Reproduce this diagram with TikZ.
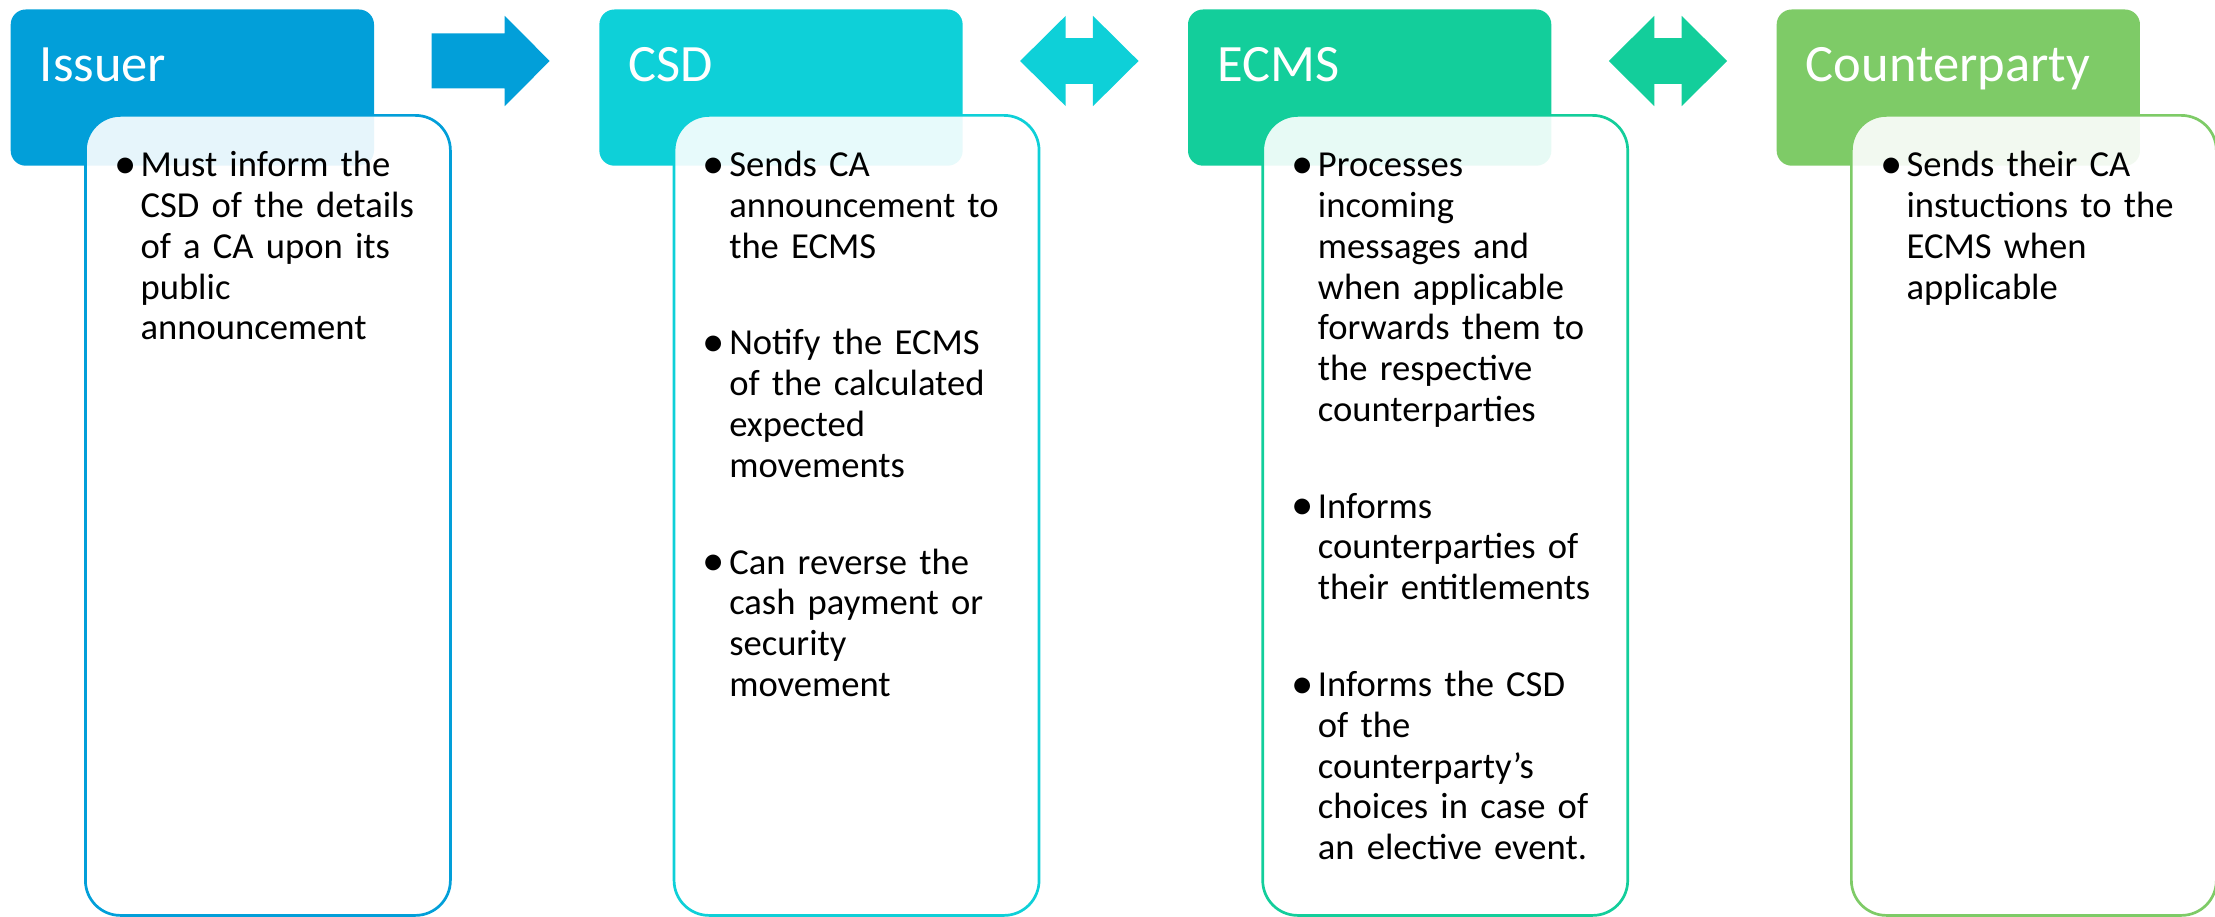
\documentclass[tikz,border=0pt]{standalone}
\usepackage{fontspec}
\usepackage{graphicx}
\setmainfont{Carlito}
\usetikzlibrary{calc}
\definecolor{cIss}{RGB}{2,159,217}
\definecolor{cCsd}{RGB}{14,208,216}
\definecolor{cEcm}{RGB}{19,206,155}
\definecolor{cCpt}{RGB}{126,203,103}
\newlength\bulw \setlength\bulw{22pt}
\newcommand\bul[1]{\par\noindent\hangindent=\bulw\hangafter=1\makebox[\bulw][l]{\hspace*{-4.5pt}\raisebox{-1.8pt}{\scalebox{1.22}{\textbullet}}}#1\par}
\newcommand\bulgap{\vskip 55.9pt}
\begin{document}
\begin{tikzpicture}[x=1pt,y=-1pt,
  header/.style={draw=none, fill=#1, rounded corners=15pt, minimum width=363.3pt, minimum height=156.2pt, anchor=north west, inner sep=0pt, outer sep=0pt},
  panel/.style={draw=#1, line width=2.7pt, fill=white, fill opacity=0.9, draw opacity=1, rounded corners=35pt, minimum width=365pt, minimum height=800pt, anchor=north west, inner sep=0pt, outer sep=0pt},
  title/.style={anchor=base west, inner sep=0pt, text=white, font=\fontsize{52.5}{60}\selectfont},
  bullets/.style={anchor=base west, inner sep=0pt, text width=340pt, align=left, font=\fontsize{36.6}{40.8}\selectfont},
]
\useasboundingbox (0,0) rectangle (2215,917);

% headers
\node[header=cIss] (hiss) at (10.7,9.5) {};
\node[header=cCsd] (hcsd) at (599.35,9.5) {};
\node[header=cEcm] (hecm) at (1188,9.5) {};
\node[header=cCpt] (hcpt) at (1776.65,9.5) {};

% panels
\node[panel=cIss] (piss) at (85.4,115.4) {};
\node[panel=cCsd] (pcsd) at (674.05,115.4) {};
\node[panel=cEcm] (pecm) at (1262.7,115.4) {};
\node[panel=cCpt] (pcpt) at (1851.35,115.4) {};

% titles
\node[title] (tiss) at ($(hiss.north west)+(29,72.2)$) {Issuer};
\node[title] (tcsd) at ($(hcsd.north west)+(29,72.2)$) {CSD};
\node[title] (tecm) at ($(hecm.north west)+(29,72.2)$) {ECMS};
\node[title] (tcpt) at ($(hcpt.north west)+(29,72.2)$) {Counterparty};

% bullet texts
\node[bullets] (biss) at ($(piss.north west)+(33,20.5)$) {%
\bul{Must inform the\newline CSD of the details\newline of a CA upon its\newline public\newline announcement}};
\node[bullets] (bcsd) at ($(pcsd.north west)+(33,20.5)$) {%
\bul{Sends CA\newline announcement to\newline the ECMS}\bulgap
\bul{Notify the ECMS\newline of the calculated\newline expected\newline movements}\bulgap
\bul{Can reverse the\newline cash payment or\newline security\newline movement}};
\node[bullets] (becm) at ($(pecm.north west)+(33,20.5)$) {%
\bul{Processes\newline incoming\newline messages and\newline when applicable\newline forwards them to\newline the respective\newline counterparties}\bulgap
\bul{Informs\newline counterparties of\newline their entitlements}\bulgap
\bul{Informs the CSD\newline of the\newline counterparty’s\newline choices in case of\newline an elective event.}};
\node[bullets] (bcpt) at ($(pcpt.north west)+(33,20.5)$) {%
\bul{Sends their CA\newline instuctions to the\newline ECMS when\newline applicable}};

% block arrows between headers
\coordinate (c1) at ($(hiss.north east)!0.5!(hcsd.north west)+(4,51.5)$);
\coordinate (c2) at ($(hcsd.north east)!0.5!(hecm.north west)+(4,51.5)$);
\coordinate (c3) at ($(hecm.north east)!0.5!(hcpt.north west)+(4,51.5)$);
\fill[cIss, shift={(c1)}] (-59,-27.5) -- (14,-27.5) -- (14,-45.2) -- (59,0) -- (14,45.2) -- (14,27.5) -- (-59,27.5) -- cycle;
\fill[cCsd, shift={(c2)}] (-59.2,0) -- (-13.6,-45.2) -- (-13.6,-22.8) -- (13.6,-22.8) -- (13.6,-45.2) -- (59.2,0) -- (13.6,45.2) -- (13.6,22.8) -- (-13.6,22.8) -- (-13.6,45.2) -- cycle;
\fill[cEcm, shift={(c3)}] (-59.2,0) -- (-13.6,-45.2) -- (-13.6,-22.8) -- (13.6,-22.8) -- (13.6,-45.2) -- (59.2,0) -- (13.6,45.2) -- (13.6,22.8) -- (-13.6,22.8) -- (-13.6,45.2) -- cycle;
\end{tikzpicture}
\end{document}
